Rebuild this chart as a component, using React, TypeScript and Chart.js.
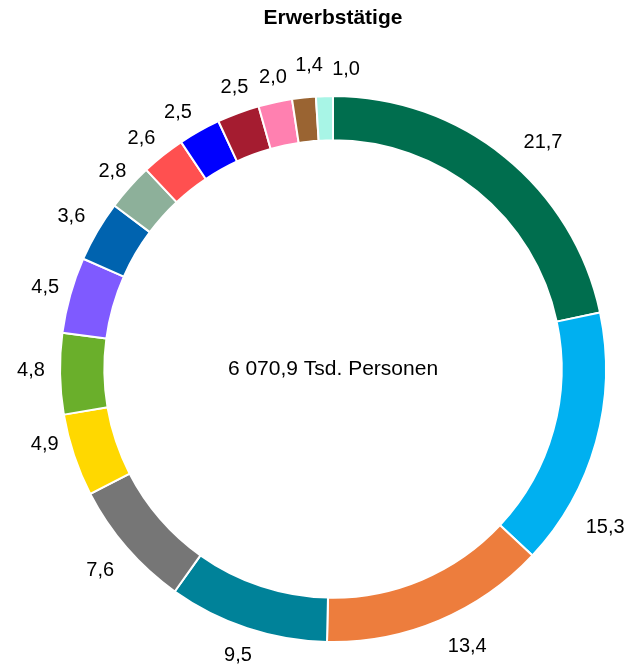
import React, { useEffect, useRef } from "react";
import { Chart, registerables } from "chart.js";

Chart.register(...registerables);

const title = "Erwerbstätige";
const centerText = "6 070,9 Tsd. Personen";
const values = [21.7, 15.3, 13.4, 9.5, 7.6, 4.9, 4.8, 4.5, 3.6, 2.8, 2.6, 2.5, 2.5, 2.0, 1.4, 1.0];
const labels = values.map((v) => v.toFixed(1).replace(".", ","));
const colors = [
  "#006E4E", "#00B0F0", "#ED7D3D", "#008299", "#767676", "#FFD800",
  "#6AAF2B", "#7F5AFF", "#0063AF", "#8DB09A", "#FF5050", "#0000FF",
  "#A51C30", "#FF80B0", "#9A6432", "#A8F5E6",
];

// label placement tweaks (degrees along ring, extra px outward), like manual label moves in the source
const labelAngleNudge = [3.8, 14.7, -3, 0, 0, 3.8, 0.7, 0, 0, 0, -1.2, -1.8, 1, 0.6, 1.6, 4.3];
const labelRadiusNudge = [8, 14, 7, 1, 7, -3, 1, -2, 2, -5, -1, -1, -3, -3, 3, -1];

const FONT = "'Liberation Sans', Arial, sans-serif";

const textPlugin = {
  id: "texts",
  afterDraw(chart: any) {
    const ctx = chart.ctx;
    const meta = chart.getDatasetMeta(0);
    ctx.save();
    ctx.fillStyle = "#000";
    ctx.textAlign = "center";
    ctx.textBaseline = "middle";
    ctx.font = `bold 21px ${FONT}`;
    ctx.fillText(title, 325, 10);
    let cx = 0, cy = 0;
    ctx.font = `20px ${FONT}`;
    meta.data.forEach((arc: any, i: number) => {
      const p = arc.getProps(["x", "y", "startAngle", "endAngle", "outerRadius"], true);
      cx = p.x; cy = p.y;
      const a = (p.startAngle + p.endAngle) / 2 + (labelAngleNudge[i] * Math.PI) / 180;
      const r = p.outerRadius + 28 + labelRadiusNudge[i];
      ctx.fillText(labels[i], p.x + Math.cos(a) * r, p.y + Math.sin(a) * r);
    });
    ctx.font = `21px ${FONT}`;
    ctx.fillText(centerText, cx, cy);
    ctx.restore();
  },
};

export default function App() {
  const ref = useRef<HTMLCanvasElement>(null);
  useEffect(() => {
    const chart = new Chart(ref.current!, {
      type: "doughnut",
      data: {
        labels,
        datasets: [
          {
            data: values,
            backgroundColor: colors,
            borderColor: "#fff",
            borderWidth: 2,
            hoverOffset: 0,
          },
        ],
      },
      options: {
        animation: false,
        responsive: false,
        radius: 273,
        cutout: 227,
        layout: { padding: { left: 53, right: 23, top: 89, bottom: 28 } },
        plugins: { legend: { display: false }, tooltip: { enabled: false }, title: { display: false } },
      },
      plugins: [textPlugin],
    } as any);
    return () => chart.destroy();
  }, []);
  return (
    <div style={{ width: 620, height: 661 }}>
      <canvas ref={ref} width={620} height={661} style={{ display: "block" }} />
    </div>
  );
}
